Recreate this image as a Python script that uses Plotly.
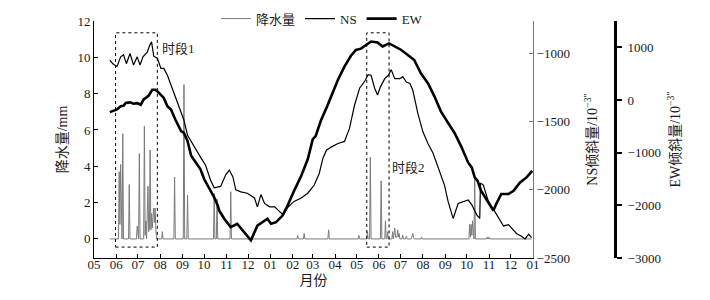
import plotly.graph_objects as go

# ---------------- data ----------------
precip_dates = [
    "2013-05-23", "2013-06-04", "2013-06-05", "2013-06-06", "2013-06-07", "2013-06-08", "2013-06-09",
    "2013-06-10", "2013-06-11", "2013-06-18", "2013-06-19", "2013-06-20", "2013-06-29", "2013-06-30",
    "2013-07-01", "2013-07-02", "2013-07-03", "2013-07-04", "2013-07-09", "2013-07-10", "2013-07-11",
    "2013-07-12", "2013-07-13", "2013-07-15", "2013-07-16", "2013-07-17", "2013-07-18", "2013-07-19",
    "2013-07-20", "2013-07-21", "2013-07-22", "2013-07-23", "2013-07-24", "2013-07-25", "2013-07-26",
    "2013-07-27", "2013-08-03", "2013-08-04", "2013-08-05", "2013-08-20", "2013-08-21", "2013-08-22",
    "2013-09-02", "2013-09-03", "2013-09-04", "2013-09-07", "2013-09-08", "2013-09-09", "2013-10-14",
    "2013-10-15", "2013-10-16", "2013-10-18", "2013-10-19", "2013-10-20", "2013-11-06", "2013-11-07",
    "2013-11-08", "2014-02-07", "2014-02-08", "2014-02-09", "2014-02-16", "2014-02-17", "2014-02-18",
    "2014-03-22", "2014-03-23", "2014-03-24", "2014-05-03", "2014-05-04", "2014-05-05", "2014-05-15",
    "2014-05-16", "2014-05-17", "2014-05-19", "2014-05-20", "2014-05-21", "2014-06-03", "2014-06-04",
    "2014-06-05", "2014-06-09", "2014-06-10", "2014-06-11", "2014-06-12", "2014-06-13", "2014-06-14",
    "2014-06-19", "2014-06-20", "2014-06-21", "2014-06-23", "2014-06-24", "2014-06-26", "2014-06-27",
    "2014-06-28", "2014-06-29", "2014-06-30", "2014-07-03", "2014-07-04", "2014-07-05", "2014-07-08",
    "2014-07-09", "2014-07-10", "2014-07-16", "2014-07-17", "2014-07-18", "2014-07-19", "2014-07-20",
    "2014-07-29", "2014-07-30", "2014-07-31", "2014-10-04", "2014-10-05", "2014-10-06", "2014-10-07",
    "2014-10-08", "2014-10-09", "2014-10-10", "2014-10-11", "2014-10-12", "2014-10-13", "2014-10-28",
    "2014-10-29", "2014-10-30", "2014-10-31", "2014-11-01", "2014-11-02", "2014-12-30",
]
precip_mm = [
    0, 0, 3.7, 0.8, 4.1, 0.3, 0,
    5.8, 0, 0, 3.0, 0, 0, 0.7,
    0.2, 0, 4.7, 0, 0, 6.2, 0.2,
    1.0, 0, 2.9, 0.4, 0.6, 4.9, 0.5,
    1.4, 0.6, 1.2, 1.7, 0.9, 1.7, 0.5,
    0, 0, 0.4, 0, 0, 3.4, 0,
    0, 8.5, 0, 0, 2.4, 0, 0,
    2.5, 0, 0, 2.2, 0, 0, 2.6,
    0, 0, 0.2, 0, 0, 0.3, 0,
    0, 0.5, 0, 0, 0.2, 0, 0,
    0.4, 0, 0, 4.5, 0, 0, 3.2,
    0, 0, 1.0, 0, 0, 0.4, 0,
    0, 0.4, 0, 0.6, 0.1, 0.1, 0.5,
    0.1, 0.3, 0, 0, 0.2, 0, 0,
    0.15, 0, 0, 0.2, 0.3, 0.1, 0,
    0, 0.1, 0, 0, 0.8, 0.1, 0.8,
    0.2, 1.0, 0.2, 0, 3.4, 0, 0,
    0.1, 0, 0, 0.1, 0, 0,
]

ns_dates = [
    "2013-05-23", "2013-05-28", "2013-06-02", "2013-06-07", "2013-06-11", "2013-06-15", "2013-06-20",
    "2013-06-25", "2013-06-30", "2013-07-04", "2013-07-08", "2013-07-14", "2013-07-17", "2013-07-20",
    "2013-07-23", "2013-07-28", "2013-08-02", "2013-08-06", "2013-08-11", "2013-08-16", "2013-08-25",
    "2013-09-03", "2013-09-08", "2013-09-17", "2013-09-26", "2013-10-03", "2013-10-10", "2013-10-15",
    "2013-10-24", "2013-10-31", "2013-11-05", "2013-11-10", "2013-11-14", "2013-11-21", "2013-11-30",
    "2013-12-10", "2013-12-14", "2013-12-19", "2013-12-24", "2013-12-31", "2014-01-07", "2014-01-14",
    "2014-01-19", "2014-01-25", "2014-02-03", "2014-02-13", "2014-02-22", "2014-03-03", "2014-03-10",
    "2014-03-15", "2014-03-20", "2014-03-27", "2014-04-05", "2014-04-14", "2014-04-21", "2014-04-28",
    "2014-05-05", "2014-05-12", "2014-05-17", "2014-05-21", "2014-05-26", "2014-05-30", "2014-06-03",
    "2014-06-09", "2014-06-14", "2014-06-18", "2014-06-23", "2014-06-30", "2014-07-04", "2014-07-09",
    "2014-07-14", "2014-07-18", "2014-07-25", "2014-08-01", "2014-08-08", "2014-08-15", "2014-08-22",
    "2014-08-31", "2014-09-05", "2014-09-12", "2014-09-19", "2014-09-26", "2014-10-03", "2014-10-08",
    "2014-10-15", "2014-10-19", "2014-10-20", "2014-10-24", "2014-10-31", "2014-11-09", "2014-11-16",
    "2014-11-21", "2014-11-28", "2014-12-02", "2014-12-09", "2014-12-16", "2014-12-21", "2014-12-26",
    "2014-12-30",
]
ns_tilt = [
    -1050, -1080, -1095, -1025, -1010, -1075, -1000,
    -1085, -1025, -1085, -1025, -990, -945, -915,
    -1020, -1035, -1110, -1110, -1160, -1230, -1365,
    -1490, -1600, -1685, -1760, -1820, -1930, -1985,
    -1975, -1890, -1855, -1905, -2000, -2015, -2025,
    -2060, -2125, -2035, -2100, -2125, -2125, -2160,
    -2185, -2130, -2085, -2060, -2025, -1965, -1880,
    -1770, -1710, -1685, -1660, -1645, -1550, -1380,
    -1255, -1205, -1155, -1160, -1255, -1305, -1245,
    -1185, -1160, -1120, -1185, -1185, -1170, -1210,
    -1220, -1270, -1440, -1575, -1660, -1730, -1840,
    -1965, -2085, -2210, -2100, -2085, -2075, -2110,
    -2185, -2210, -1950, -1965, -2085, -2160, -2220,
    -2265, -2255, -2280, -2320, -2340, -2360, -2325,
    -2350,
]

ew_dates = [
    "2013-05-23", "2013-06-02", "2013-06-07", "2013-06-11", "2013-06-14", "2013-06-20", "2013-06-25",
    "2013-06-30", "2013-07-05", "2013-07-09", "2013-07-12", "2013-07-16", "2013-07-21", "2013-07-25",
    "2013-07-28", "2013-08-02", "2013-08-06", "2013-08-11", "2013-08-16", "2013-08-22", "2013-08-30",
    "2013-09-03", "2013-09-08", "2013-09-13", "2013-09-22", "2013-09-26", "2013-10-01", "2013-10-05",
    "2013-10-10", "2013-10-15", "2013-10-20", "2013-10-22", "2013-10-29", "2013-11-07", "2013-11-16",
    "2013-11-25", "2013-12-05", "2013-12-14", "2013-12-23", "2013-12-28", "2014-01-02", "2014-01-09",
    "2014-01-18", "2014-01-25", "2014-02-03", "2014-02-13", "2014-02-22", "2014-03-01", "2014-03-05",
    "2014-03-12", "2014-03-21", "2014-03-28", "2014-04-05", "2014-04-14", "2014-04-23", "2014-04-30",
    "2014-05-07", "2014-05-14", "2014-05-21", "2014-05-30", "2014-06-06", "2014-06-15", "2014-06-23",
    "2014-07-02", "2014-07-11", "2014-07-20", "2014-07-29", "2014-08-08", "2014-08-17", "2014-08-26",
    "2014-09-05", "2014-09-14", "2014-09-23", "2014-10-03", "2014-10-08", "2014-10-12", "2014-10-16",
    "2014-10-21", "2014-10-31", "2014-11-07", "2014-11-11", "2014-11-18", "2014-11-28", "2014-12-05",
    "2014-12-14", "2014-12-23", "2014-12-31",
]
ew_tilt = [
    -230, -180, -120, -110, -55, -45, -70,
    -60, -90, 10, 40, 85, 195, 195,
    165, 100, 40, -120, -180, -370, -590,
    -625, -780, -1060, -1250, -1315, -1500, -1595,
    -1725, -1850, -2005, -2100, -2255, -2415, -2350,
    -2510, -2665, -2385, -2290, -2255, -2350, -2320,
    -2195, -2005, -1725, -1440, -1125, -745, -685,
    -400, -120, 130, 385, 635, 840, 950,
    975, 1045, 1110, 1090, 1015, 1075, 1015,
    950, 855, 760, 510, 320, 70, -215,
    -435, -625, -875, -1190, -1285, -1470, -1535,
    -1725, -1945, -2100, -1970, -1785, -1785, -1725,
    -1565, -1470, -1345,
]

period_labels = ["时段1", "时段2"]
period_start = ["2013-05-31", "2014-05-15"]
period_end = ["2013-07-28", "2014-06-15"]
period_label_x = ["2013-08-01", "2014-06-16"]
period_label_y = [10.5, 3.95]

x_range = ["2013-05-01", "2015-01-01"]
precip_range = [-1.05, 12]
ns_range = [-2500, -762]
ew_range = [-3000, 1500]

# ---------------- figure ----------------
FONT = "Liberation Serif, Times New Roman, Noto Sans CJK SC, serif"
TXT = "#1a1a1a"

fig = go.Figure()
fig.add_trace(go.Scatter(x=precip_dates, y=precip_mm, name="降水量", mode="lines",
                         line=dict(color="#7a7a7a", width=1), yaxis="y"))
fig.add_trace(go.Scatter(x=ns_dates, y=ns_tilt, name="NS", mode="lines",
                         line=dict(color="black", width=1.2), yaxis="y2"))
fig.add_trace(go.Scatter(x=ew_dates, y=ew_tilt, name="EW", mode="lines",
                         line=dict(color="black", width=2.6), yaxis="y3"))

shapes = []
for s, e in zip(period_start, period_end):
    shapes.append(dict(type="rect", xref="x", yref="y", x0=s, x1=e, y0=-0.45, y1=11.35,
                       line=dict(color="black", width=1, dash="dot"), fillcolor="rgba(0,0,0,0)"))

annotations = []
for lab, lx, ly in zip(period_labels, period_label_x, period_label_y):
    annotations.append(dict(text=lab, x=lx, y=ly, xref="x", yref="y", xanchor="left",
                            yanchor="middle", showarrow=False, font=dict(size=13, color=TXT, family=FONT)))

# page offset of 8px (default body margin) is compensated in size/margins
L, R, T, B = 86, 12, 13, 42
W, H = 702, 292
PW = W - L - R
DOM = 439 / PW
EW_POS = (615 - 8 - L) / PW

fig.update_layout(
    width=W, height=H,
    margin=dict(l=L, r=R, t=T, b=B, autoexpand=False),
    paper_bgcolor="white", plot_bgcolor="white",
    font=dict(family=FONT, size=13, color=TXT),
    showlegend=True,
    legend=dict(orientation="h", x=(314 - L) / PW, xanchor="center", y=1.01, yanchor="middle",
                bgcolor="rgba(0,0,0,0)", font=dict(size=13, family=FONT), itemwidth=30,
                tracegroupgap=0),
    shapes=shapes,
    annotations=annotations,
    xaxis=dict(type="date", range=x_range, domain=[0, DOM], dtick="M1", tick0="2013-05-01",
               tickformat="%m", ticks="inside", ticklen=4, tickcolor="black",
               ticklabelstandoff=-6,
               showline=True, linecolor="black", linewidth=1, showgrid=False, zeroline=False,
               title=dict(text="月份", font=dict(size=14), standoff=4), tickfont=dict(size=13)),
    yaxis=dict(range=precip_range, tick0=0, dtick=2, ticks="inside", ticklen=4, tickcolor="black",
               showline=True, linecolor="black", linewidth=1, showgrid=False, zeroline=False,
               title=dict(text="降水量/mm", font=dict(size=14), standoff=6), tickfont=dict(size=13)),
    yaxis2=dict(overlaying="y", side="right", anchor="x", range=ns_range, tick0=-2500, dtick=500,
                ticks="inside", ticklen=4, tickcolor="#777", showline=True, linecolor="#777",
                linewidth=1, showgrid=False, zeroline=False,
                title=dict(text="NS倾斜量/10<sup>−3″</sup>", font=dict(size=14), standoff=18),
                tickfont=dict(size=13)),
    yaxis3=dict(overlaying="y", side="right", anchor="free", position=EW_POS,
                range=ew_range, tick0=-3000, dtick=1000, ticks="outside", ticklen=5, tickwidth=2,
                tickcolor="black", showline=True, linecolor="black", linewidth=3,
                ticklabelstandoff=3,
                showgrid=False, zeroline=False,
                title=dict(text="EW倾斜量/10<sup>−3″</sup>", font=dict(size=14), standoff=10),
                tickfont=dict(size=13)),
)

fig.write_html("out.html")
